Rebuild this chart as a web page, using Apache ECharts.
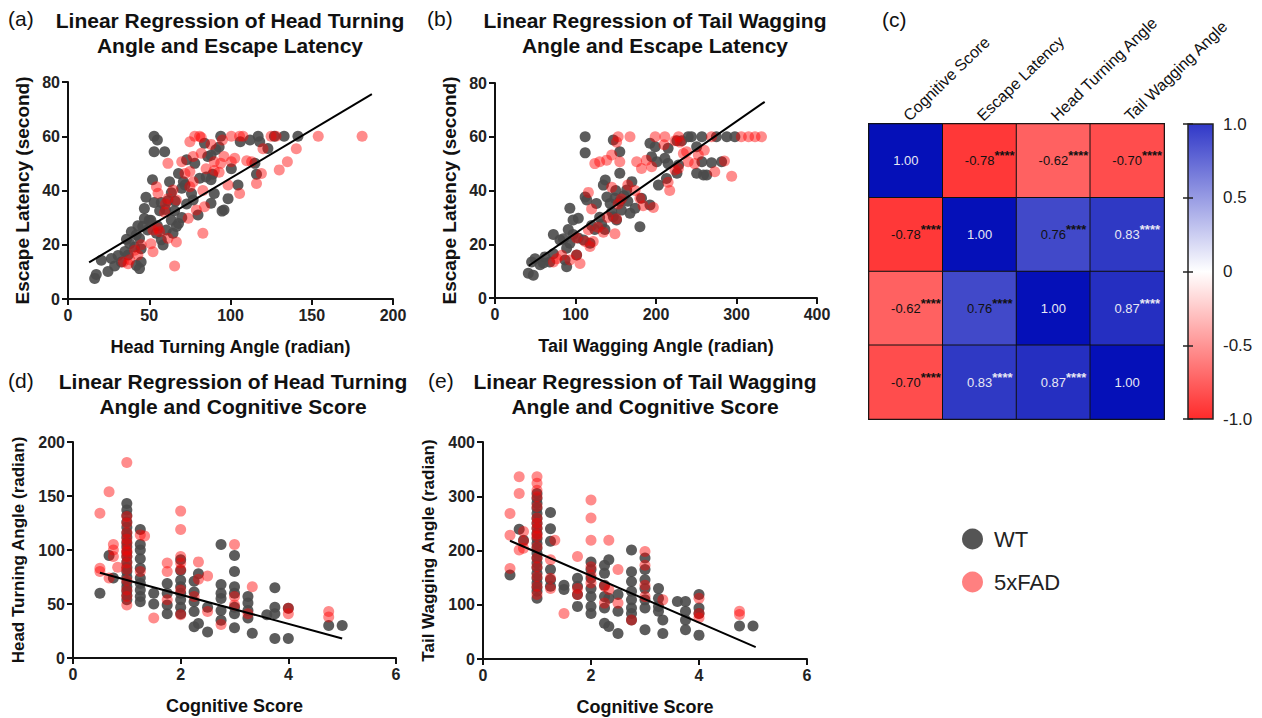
<!DOCTYPE html>
<html>
<head>
<meta charset="utf-8">
<title>Linear regression and correlation</title>
<script src="https://cdn.jsdelivr.net/npm/echarts@6/dist/echarts.min.js"></script>
<style>
    html, body { margin: 0; padding: 0; background: #fff; }
    #chart { width: 1262px; height: 718px; }
</style>
</head>
<body>
<div id="chart"></div>
<script>
    // ---- data ----
    // (a) head turning angle vs escape latency
    var wtA = [[53,60],[55,58.6],[53,54.3],[59.5,54.3],[94,60],[117,60],[127,60],[133,60],[141.5,60],[112,58.6],[118,58],[106,58],[84,57.4],[91,55],[93,56],[86,52.5],[88,53],[78,50],[73,51.3],[100.5,48],[115,50],[116,46],[123,55.5],[81,44.5],[85,45],[89,46],[88,44],[68,46.3],[71,43.2],[70,40.8],[52,44],[62.5,43.2],[63.6,39.2],[61.5,36.2],[57.4,35.6],[104.6,42],[98.5,37],[90,38.9],[88,35.3],[96,32.8],[80,31],[76,38.9],[77,36.5],[48,37.5],[47,33.4],[53,35.6],[56.4,32.5],[65.6,32.5],[70,30],[68,27.8],[63.6,29],[60.5,25.4],[51,29],[47,29.7],[46,26.7],[49,25.4],[54.4,24.2],[64.6,24.2],[66.7,26.7],[57.4,21.8],[58.5,19.9],[39,24.8],[42,23.6],[44,22.4],[38,20.4],[41,19.2],[45,18.5],[35,17.5],[37,16.2],[30.8,16],[32.8,13.6],[28.7,12.2],[45,13.6],[44,11.2],[42,12.4],[26.7,14.9],[20.5,14.3],[24.6,10.1],[17.4,9],[16.4,7.6],[50,29],[94.8,32.4],[73,35],[60,33],[55,27],[43,27],[36,22],[72,42],[66,36]];
    var fadA = [[78,60],[81,60],[82,59.5],[100.5,60],[105.6,60],[107.7,60],[125,60],[154,60],[181,60],[95,58.6],[75,58],[120,55.4],[140.5,55.4],[82,53.7],[77,52.5],[96,52.5],[102.6,51.9],[100.5,50.6],[90,50.6],[94,50],[113,50.6],[135,50.6],[130,47.6],[61.5,50],[70,50.6],[72,46.3],[75,47],[85,48],[90,47.4],[93,46.7],[119,46.3],[116,42.6],[105.6,38.9],[98.5,42],[83,40],[77,43.2],[75,41.4],[54.4,41.4],[55.4,39],[64.6,40.2],[66.7,36.5],[61.5,37],[79,32.8],[84,34],[74,29.8],[83,24.2],[55.4,26],[56.4,24.8],[59.5,32],[52.3,25.4],[61.5,22.4],[66.7,21],[52.3,17.4],[41,18],[43,16.2],[34,13.6],[37,13],[65.6,12.2],[51,20.4],[128,60],[110,51],[88,57],[60,35],[45,20],[38,14.5]];
    var fitA = [[13,13.5],[187,75.5]];

    // (b) tail wagging angle vs escape latency
    var wtB = [[112,60],[112,54],[147,58.8],[155,54.4],[192.5,57.6],[199,56.3],[215,55.7],[226,58.5],[232,58.5],[240,60],[244,60],[257,60],[275,60],[288,60],[298,60],[250.5,56.3],[194.6,52.6],[201,50.7],[211,52],[215,50],[257,50.7],[269,50.3],[281.5,50.7],[250.5,46.4],[259,45.8],[263,45.8],[228,49.5],[213,44.5],[203,42],[226,46.4],[155,46.4],[137,43.9],[134.6,42],[170,43.3],[163.6,40.2],[149,37.1],[155,36],[112,37.6],[114,36.5],[139,37.6],[143,35.2],[182,37.1],[192.5,34.6],[126,35.2],[174,33.4],[167.7,31.5],[147,30.2],[151,29],[157,32.7],[180,26.5],[93,33.4],[103.5,29.7],[97,29],[91,25.5],[97,23.6],[72.5,23.6],[80.7,21.6],[103.5,22.3],[110,21.6],[93,20.4],[89,18.5],[118,20.4],[124,25.5],[132.5,27.4],[136.6,25.5],[62,15.3],[68,13.4],[72.5,16.5],[49.7,14.6],[45.5,13.4],[41.4,9.2],[47.6,8.5],[87,14.1],[89,11.6],[101.4,16],[56,12.4],[160,38],[145,32],[130,30],[120,27],[85,22],[60,13],[150,40],[165,36]];
    var fadB = [[153,60],[167.7,60],[199,60],[211,60],[228,60],[223.6,58.5],[230,58],[306,60],[315,60],[323,60],[331,60],[269,60],[151,58],[145,53.2],[138.7,51.3],[124,50],[130,50.7],[155,50.7],[176,50.7],[182,48.2],[188,51.3],[194.6,48.8],[234,53.8],[238,54.4],[252.6,53.2],[240,50.7],[248,50],[273,47],[294,45.3],[223.6,47.6],[227.7,48.2],[215,43.1],[217,40],[174,40],[180,37.1],[196.7,33.7],[184,34.3],[116,39.3],[120,33.1],[145,41.2],[157,36.8],[153,35],[128,26.3],[134.6,24.5],[149,23.9],[151,29.5],[116,25.4],[101.4,22.3],[112,21],[122,21],[118,19.2],[76.6,14.6],[72.5,13.4],[82.8,15.9],[105.6,12.8],[101.4,16],[93,14.1],[285,51],[260,55],[210,57],[165,42],[140,30]];
    var fitB = [[42,12],[335,73]];

    // (d) cognitive score vs head turning angle
    var wtD = [[0.5,60],[0.67,95],[0.75,74],
        [1,143],[1,137],[1,132],[1,126],[1,121],[1,116],[1,112],[1,107],[1,103],[1,98],[1,94],[1,89],[1,84],[1,80],[1,75],[1,70],[1,66],[1,62],[1,58],[1,54],
        [1.25,119],[1.25,105],[1.25,100],[1.25,92],[1.25,83],[1.25,74],[1.25,69],[1.25,63],[1.25,57],[1.25,52],
        [1.5,60],[1.5,50],[1.75,69],[1.75,60],[1.75,49],[1.75,41],
        [2,91],[2,81],[2,72],[2,66],[2,60],[2,54],[2,47],[2,41],
        [2.25,71],[2.25,61],[2.25,52],[2.25,43],[2.25,29],[2.33,78],[2.33,32],[2.5,47],[2.5,24],
        [2.75,105],[2.75,68],[2.75,60],[2.75,55],[2.75,44],[2.75,35],
        [3,95],[3,80],[3,66],[3,60],[3,47],[3,41],[3,28],
        [3.25,57],[3.25,51],[3.25,44],[3.25,37],[3.33,23],[3.6,40],
        [3.75,65],[3.75,47],[3.75,41],[3.75,18],[4,46],[4,18],[4.75,30],[5,30]];
    var fadD = [[0.5,134],[0.5,83],[0.5,80],[0.67,154],[0.67,74],[0.75,105],[0.75,100],[0.75,94],[0.83,84],
        [1,181],[1,131],[1,125],[1,116],[1,110],[1,106],[1,100],[1,98],[1,94],[1,88],[1,82],[1,72],[1,63],[1,57],[1,49],
        [1.25,114],[1.25,80],[1.33,113],[1.5,37],[1.75,88],[1.75,80],[1.75,54],
        [2,136],[2,119],[2,94],[2,88],[2,82],[2,63],[2,40],
        [2.25,57],[2.33,89],[2.33,73],[2.5,76],[2.5,43],[2.75,31],
        [3,105],[3,57],[3,49],[3.25,41],[3.33,66],[4,46],[4,41],[4.75,43],[4.75,38]];
    var fitD = [[0.5,79],[5,18]];

    // (e) cognitive score vs tail wagging angle
    var wtE = [[0.5,155],[0.67,239],[0.75,219],
        [1,305],[1,296],[1,287],[1,278],[1,268],[1,259],[1,250],[1,241],[1,232],[1,222],[1,213],[1,204],[1,195],[1,186],[1,177],[1,168],[1,158],[1,149],[1,140],[1,132],[1,125],[1,112],
        [1.25,270],[1.25,240],[1.25,217],[1.25,165],[1.25,146],[1.25,134],[1.5,136],[1.5,128],
        [1.75,149],[1.75,134],[1.75,119],[1.75,97],
        [2,179],[2,165],[2,149],[2,130],[2,115],[2,97],[2,84],
        [2.25,173],[2.25,158],[2.25,136],[2.25,115],[2.25,94],[2.25,66],[2.33,183],[2.33,112],[2.33,60],
        [2.5,119],[2.5,88],[2.5,47],
        [2.75,201],[2.75,161],[2.75,143],[2.75,125],[2.75,109],[2.75,94],[2.75,84],[2.75,72],
        [3,186],[3,165],[3,146],[3,130],[3,109],[3,94],[3,54],
        [3.25,130],[3.25,112],[3.25,97],[3.25,88],[3.33,72],[3.33,47],[3.6,106],
        [3.75,106],[3.75,88],[3.75,72],[3.75,54],[4,119],[4,94],[4,84],[4,44],[4.75,61],[5,61]];
    var fadE = [[0.5,268],[0.5,228],[0.5,167],[0.67,336],[0.67,305],[0.67,201],[0.75,235],[0.75,217],[0.75,204],
        [1,336],[1,324],[1,311],[1,299],[1,281],[1,260],[1,250],[1,241],[1,230],[1,226],[1,207],[1,186],[1,170],[1,152],[1,134],[1,119],
        [1.25,183],[1.25,149],[1.25,130],[1.33,219],[1.5,84],[1.75,189],[1.75,130],[1.75,119],
        [2,293],[2,260],[2,219],[2,170],[2,155],[2,140],
        [2.25,134],[2.25,103],[2.33,219],[2.33,128],[2.5,165],[2.5,103],[2.75,72],
        [3,198],[3,173],[3,136],[3,115],[3.33,109],[4,112],[4,84],[4,76],[4.75,88],[4.75,82]];
    var fitE = [[0.5,218],[5.05,22]];

    // (c) correlation matrix
    var heatVars = ['Cognitive Score', 'Escape Latency', 'Head Turning Angle', 'Tail Wagging Angle'];
    var corr = [
        [1.00, -0.78, -0.62, -0.70],
        [-0.78, 1.00, 0.76, 0.83],
        [-0.62, 0.76, 1.00, 0.87],
        [-0.70, 0.83, 0.87, 1.00]
    ];

    var FONT = '"Liberation Sans", Arial, sans-serif';

    // panel setup: grid, axis ranges, names
    var panels = [
        {grid: {left: 68, top: 82, width: 325, height: 217}, x: [0, 200, 50], y: [0, 80, 20],
         xName: 'Head Turning Angle (radian)', yName: 'Escape Latency (second)', yNameSize: 19, yGap: 36,
         wt: wtA, fad: fadA, fit: fitA},
        {grid: {left: 495, top: 83, width: 322, height: 215}, x: [0, 400, 100], y: [0, 80, 20],
         xName: 'Tail Wagging Angle (radian)', yName: 'Escape Latency (second)', yNameSize: 19, yGap: 36,
         wt: wtB, fad: fadB, fit: fitB},
        {grid: {left: 73, top: 442, width: 323, height: 216}, x: [0, 6, 2], y: [0, 200, 50],
         xName: 'Cognitive Score', yName: 'Head Turning Angle (radian)', yNameSize: 17, yGap: 46,
         wt: wtD, fad: fadD, fit: fitD},
        {grid: {left: 483, top: 442, width: 324, height: 217}, x: [0, 6, 2], y: [0, 400, 100],
         xName: 'Cognitive Score', yName: 'Tail Wagging Angle (radian)', yNameSize: 17, yGap: 46,
         wt: wtE, fad: fadE, fit: fitE}
    ];

    var titles = [
        {text: '(a)', left: 8, top: 8}, {text: '(b)', left: 427, top: 8}, {text: '(c)', left: 882, top: 9},
        {text: '(d)', left: 8, top: 370}, {text: '(e)', left: 428, top: 370}
    ].map(function (t) {
        return {text: t.text, left: t.left, top: t.top, padding: 0,
            textStyle: {fontFamily: FONT, fontSize: 21, fontWeight: 'normal', color: '#111'}};
    });
    [
        {text: 'Linear Regression of Head Turning\nAngle and Escape Latency', left: 230, top: 8},
        {text: 'Linear Regression of Tail Wagging\nAngle and Escape Latency', left: 655, top: 8},
        {text: 'Linear Regression of Head Turning\nAngle and Cognitive Score', left: 233, top: 369},
        {text: 'Linear Regression of Tail Wagging\nAngle and Cognitive Score', left: 645, top: 369}
    ].forEach(function (t) {
        titles.push({text: t.text, left: t.left, top: t.top, padding: 0, textAlign: 'center',
            textStyle: {fontFamily: FONT, fontSize: 21, fontWeight: 'bold', color: '#111', lineHeight: 25}});
    });

    var grids = [], xAxes = [], yAxes = [], series = [];
    var axisCommon = {
        axisLine: {lineStyle: {color: '#111', width: 2}},
        axisTick: {length: 6, lineStyle: {color: '#111', width: 2}},
        axisLabel: {fontFamily: FONT, fontSize: 16, fontWeight: 'bold', color: '#222', margin: 8},
        splitLine: {show: false}
    };

    panels.forEach(function (p, i) {
        grids.push(p.grid);
        xAxes.push(Object.assign({}, axisCommon, {
            type: 'value', gridIndex: i, min: p.x[0], max: p.x[1], interval: p.x[2],
            name: p.xName, nameLocation: 'middle', nameGap: 39,
            nameTextStyle: {fontFamily: FONT, fontSize: 18, fontWeight: 'bold', color: '#111'}
        }));
        yAxes.push(Object.assign({}, axisCommon, {
            type: 'value', gridIndex: i, min: p.y[0], max: p.y[1], interval: p.y[2],
            name: p.yName, nameLocation: 'middle', nameGap: p.yGap,
            nameTextStyle: {fontFamily: FONT, fontSize: p.yNameSize, fontWeight: 'bold', color: '#111'}
        }));
        series.push({
            type: 'scatter', name: 'WT', xAxisIndex: i, yAxisIndex: i, data: p.wt,
            symbolSize: 11, itemStyle: {color: '#4a4a4a', opacity: 0.9}
        });
        series.push({
            type: 'scatter', name: '5xFAD', xAxisIndex: i, yAxisIndex: i, data: p.fad,
            symbolSize: 11, itemStyle: {color: '#ff0000', opacity: 0.45}
        });
        series.push({
            type: 'line', name: 'fit', xAxisIndex: i, yAxisIndex: i, data: p.fit,
            symbol: 'none', z: 5, lineStyle: {color: '#000', width: 2}
        });
    });

    // heatmap grid (index 4) and colour bar grid (index 5)
    grids.push({left: 869, top: 124, width: 295, height: 295, show: true,
        borderColor: '#111', borderWidth: 2, backgroundColor: 'transparent'});
    grids.push({left: 1188, top: 124, width: 25, height: 295, show: true,
        borderColor: '#222', borderWidth: 1.5,
        backgroundColor: new echarts.graphic.LinearGradient(0, 0, 0, 1, [
            {offset: 0, color: '#3038c8'},
            {offset: 0.5, color: '#ffffff'},
            {offset: 1, color: '#ff2a2a'}
        ])});

    xAxes.push({type: 'category', gridIndex: 4, position: 'top', data: heatVars,
        axisLine: {show: false}, axisTick: {show: false}, splitLine: {show: false},
        axisLabel: {rotate: -44, margin: 6, fontFamily: FONT, fontSize: 16, color: '#111', interval: 0}});
    yAxes.push({type: 'category', gridIndex: 4, data: heatVars, inverse: true, show: false});

    xAxes.push({type: 'value', gridIndex: 5, show: false, min: 0, max: 1});
    yAxes.push({type: 'value', gridIndex: 5, position: 'right', min: -1, max: 1, interval: 0.5,
        axisLine: {show: false}, splitLine: {show: false},
        axisTick: {inside: true, length: 5, lineStyle: {color: '#222', width: 1.5}},
        axisLabel: {fontFamily: FONT, fontSize: 17, color: '#222', margin: 10,
            formatter: function (v) { return v === 0 ? '0' : v.toFixed(1); }}});
    yAxes.push({type: 'value', gridIndex: 5, position: 'left', min: -1, max: 1, interval: 0.5,
        axisLine: {show: false}, splitLine: {show: false}, axisLabel: {show: false},
        axisTick: {inside: true, length: 5, lineStyle: {color: '#222', width: 1.5}}});

    var heatData = [];
    corr.forEach(function (row, r) {
        row.forEach(function (v, c) {
            var col = v > 0.8 ? '#e8e8f4' : '#111';
            var stars = r === c ? '' : '****';
            heatData.push({
                value: [c, r, v],
                label: {
                    formatter: '{sp|' + stars + '}{v|' + v.toFixed(2) + '}{s|' + stars + '}',
                    rich: {
                        sp: {color: 'transparent', fontSize: 13, fontWeight: 'bold'},
                        v: {color: col, fontSize: 13, fontFamily: FONT},
                        s: {color: col, fontSize: 13, fontWeight: 'bold', fontFamily: FONT, padding: [0, 0, 10, 0]}
                    }
                }
            });
        });
    });
    series.push({
        type: 'heatmap', name: 'corr', xAxisIndex: 4, yAxisIndex: 4, data: heatData,
        label: {show: true},
        itemStyle: {borderColor: '#111', borderWidth: 1}
    });

    var option = {
        animation: false,
        backgroundColor: '#fff',
        title: titles,
        grid: grids,
        xAxis: xAxes,
        yAxis: yAxes,
        visualMap: {
            type: 'continuous', show: false, min: -1, max: 1, seriesIndex: series.length - 1, dimension: 2,
            inRange: {color: ['#ff0000', '#ffffff', '#0510b8']}
        },
        legend: {
            orient: 'vertical', left: 957, top: 523, itemGap: 21, itemWidth: 21, itemHeight: 21,
            icon: 'circle',
            textStyle: {fontFamily: FONT, fontSize: 22, color: '#222', padding: [0, 0, 0, 6]},
            data: [
                {name: 'WT', itemStyle: {color: '#555', opacity: 1}},
                {name: '5xFAD', itemStyle: {color: '#ff8080', opacity: 1}}
            ]
        },
        series: series
    };

    var myChart = echarts.init(document.getElementById('chart'), null, {renderer: 'svg'});
    myChart.setOption(option);
</script>
</body>
</html>
